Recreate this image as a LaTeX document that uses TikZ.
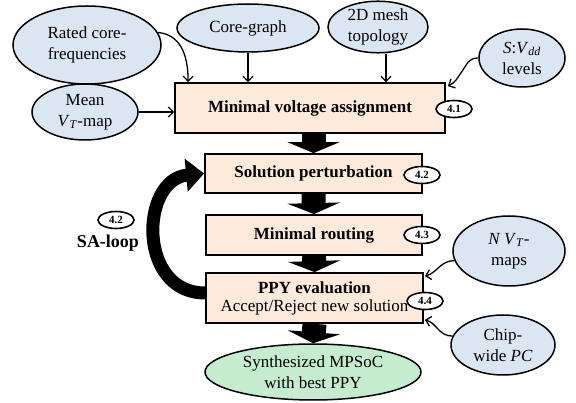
\documentclass[tikz,border=0pt]{standalone}
\usepackage{fontspec}
\setmainfont{Liberation Serif}
\usetikzlibrary{shapes.geometric,arrows.meta,calc}
\definecolor{inblue}{RGB}{220,230,242}
\definecolor{boxfill}{RGB}{253,234,218}
\definecolor{outgreen}{RGB}{198,236,208}
\begin{document}
\begin{tikzpicture}[x=1pt,y=-1pt,
  inell/.style={ellipse, draw=black, line width=1.5pt, fill=inblue, inner sep=0pt, align=center, font=\fontsize{17}{21}\selectfont},
  outell/.style={ellipse, draw=black, line width=1.5pt, fill=outgreen, inner sep=0pt, align=center, font=\fontsize{17}{21}\selectfont},
  stepbox/.style={rectangle, draw=black, line width=1.8pt, fill=boxfill, inner sep=2pt, align=center, font=\fontsize{17}{18}\selectfont\bfseries},
  tag/.style={ellipse, draw=black, line width=1.6pt, fill=white, inner sep=0pt, minimum width=36pt, minimum height=17pt, font=\fontsize{11}{11}\selectfont\bfseries},
  feed/.style={line width=1.3pt, -{Straight Barb[length=5pt,width=10pt]}},
  bigarrow/.style={line width=24pt, -{Triangle[length=11pt,width=52pt]}},
  looparrow/.style={line width=13pt, -{Triangle[length=18pt,width=32pt]}}
]
\useasboundingbox (0,0) rectangle (576,403);

% input ellipses
\node[inell, minimum width=148pt, minimum height=78pt] (rated) at (87,45) {Rated core-\\frequencies};
\node[inell, minimum width=142pt, minimum height=48pt] (core) at (248,28) {Core-graph};
\node[inell, minimum width=100pt, minimum height=50pt] (mesh) at (378,27) {2D mesh\\topology};
\node[inell, minimum width=86pt, minimum height=58pt] (svdd) at (522,58) {\textit{S}:\textit{V}\textsubscript{\textit{dd}}\\levels};
\node[inell, minimum width=106pt, minimum height=56pt] (mean) at (85,112) {Mean\\\textit{V}\textsubscript{\textit{T}}-map};
\node[inell, minimum width=112pt, minimum height=70pt] (nvt) at (509,251) {\textit{N V}\textsubscript{\textit{T}}-\\maps};
\node[inell, minimum width=104pt, minimum height=60pt] (chip) at (503,345) {Chip-\\wide \textit{PC}};

% step boxes
\node[stepbox, minimum width=270pt, minimum height=50pt] (b1) at (310,108) {Minimal voltage assignment};
\node[stepbox, minimum width=217pt, minimum height=39pt] (b2) at (313.5,173.5) {Solution perturbation};
\node[stepbox, minimum width=216pt, minimum height=40pt] (b3) at (314,235) {Minimal routing};
\node[stepbox, minimum width=217pt, minimum height=50pt] (b4) at (314.5,298) {PPY evaluation\\\normalfont Accept/Reject new solution};

% output
\node[outell, minimum width=216pt, minimum height=56pt] (final) at (313,372) {Synthesized MPSoC\\with best PPY};

% block arrows
\draw[bigarrow] (b2.north |- b1.south) -- (b2.north);
\draw[bigarrow] (b2.south) -- (b3.north);
\draw[bigarrow] (b3.south) -- (b4.north);
\draw[bigarrow] (b4.south) -- (final.north);

% SA loop
\draw[looparrow] ([yshift=5pt]b4.west) .. controls +(-68,0) and +(-64,6) .. (b2.west);

% tags
\node[tag] (t1) at (454,109) {4.1};
\node[tag] (t2) at (422,175) {4.2};
\node[tag] (t3) at (422,235) {4.3};
\node[tag] (t4) at (425,301) {4.4};
\node[tag] (t5) at (116,220) {4.2};
\node[font=\fontsize{18}{18}\selectfont\bfseries] (sa) at (108,243) {SA-loop};

% feed arrows
\draw[feed] (rated.10) .. controls +(22,2) and +(0,-28) .. ([xshift=14pt]b1.north west);
\draw[feed] (core.south) -- (core.south |- b1.north);
\draw[feed] ([xshift=8pt]mesh.south) -- ([xshift=8pt]mesh.south |- b1.north);
\draw[feed] (svdd.west) .. controls +(-10,0) and +(5,-7) .. ++(-16,13)
  .. controls +(-5,7) and +(8,-4) .. ([xshift=2pt,yshift=-4pt]b1.north east);
\draw[feed] (mean.east) -- (b1.west |- mean.east);
\draw[feed] (nvt.190) .. controls +(-14,0) and +(12,-3) .. ([xshift=1pt,yshift=-4pt]b4.north east);
\draw[feed] (chip.170) .. controls +(-14,0) and +(12,3) .. ([xshift=1pt,yshift=4pt]b4.south east);
\end{tikzpicture}
\end{document}
